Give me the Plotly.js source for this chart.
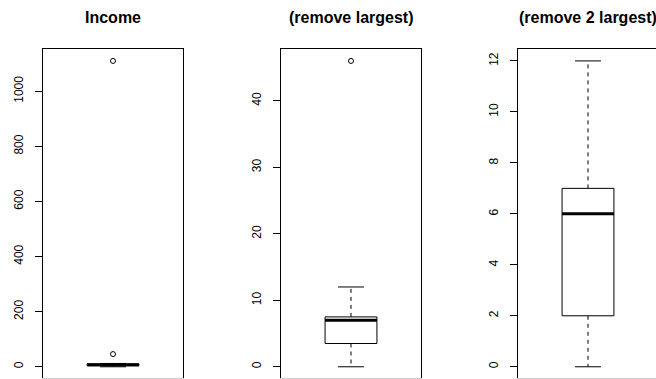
<!DOCTYPE html>
<html><head><meta charset="utf-8">
<script src="https://cdn.plot.ly/plotly-3.0.1.min.js"></script>
<style>html,body{margin:0;padding:0;background:#fff;overflow:hidden}</style>
</head><body><div id="chart" style="width:656px;height:379px"></div>
<script>
// Panel titles
const titles = ['Income', '(remove largest)', '(remove 2 largest)'];
// Box statistics (Tukey five-number summary) per panel
const lowWhisker  = [0, 0, 0];
const lowerHinge  = [3.5, 3.5, 2];
const medians     = [7, 7, 6];
const upperHinge  = [10, 7.5, 7];
const highWhisker = [12, 12, 12];
const outliers    = [[46, 1110], [46], []];
// y tick spacing per panel
const tickSteps = [200, 10, 2];

const W = 656, H = 379;
const FONT = 'Liberation Sans, Arial, Helvetica, sans-serif';
const xDomains = [[43 / W, 183 / W], [281 / W, 421 / W], [518 / W, 1]];
const yTop = 1 - 48.7 / H;
const pxPerUnit = 140 / 1.08;

const traces = [];
const layout = {
  width: W, height: H,
  margin: {l: 0, r: 0, t: 0, b: 0},
  paper_bgcolor: '#fff', plot_bgcolor: '#fff',
  showlegend: false,
  annotations: [], shapes: []
};

const line = (xa, ya, x, y, width, dash) => ({
  type: 'scatter', mode: 'lines', x: x, y: y, xaxis: xa, yaxis: ya,
  line: {color: '#000', width: width, dash: dash || 'solid'},
  hoverinfo: 'skip'
});

for (let i = 0; i < 3; i++) {
  const sfx = i === 0 ? '' : String(i + 1);
  const xa = 'x' + sfx, ya = 'y' + sfx;
  const c = 1, hw = 0.2, cw = 0.1;
  const q1 = lowerHinge[i], q3 = upperHinge[i];
  // box
  traces.push(line(xa, ya, [c - hw, c + hw, c + hw, c - hw, c - hw], [q1, q1, q3, q3, q1], 1));
  // whiskers
  traces.push(line(xa, ya, [c, c], [q3, highWhisker[i]], 1, '4px,4px'));
  traces.push(line(xa, ya, [c, c], [q1, lowWhisker[i]], 1, '4px,4px'));
  // staples
  traces.push(line(xa, ya, [c - cw, c + cw], [highWhisker[i], highWhisker[i]], 1));
  traces.push(line(xa, ya, [c - cw, c + cw], [lowWhisker[i], lowWhisker[i]], 1));
  // median
  traces.push(line(xa, ya, [c - hw, c + hw], [medians[i], medians[i]], 3));
  // outliers
  if (outliers[i].length) {
    traces.push({
      type: 'scatter', mode: 'markers', xaxis: xa, yaxis: ya,
      x: outliers[i].map(() => c), y: outliers[i],
      marker: {symbol: 'circle-open', size: 5, color: '#000', line: {width: 1, color: '#000'}},
      hoverinfo: 'skip', cliponaxis: false
    });
  }

  const allY = [lowWhisker[i], highWhisker[i]].concat(outliers[i]);
  const lo = Math.min(...allY), hi = Math.max(...allY);
  const pad = 0.04 * (hi - lo);
  const dom = xDomains[i];
  const xr = [0.46, 0.46 + (dom[1] - dom[0]) * W / pxPerUnit];

  layout['xaxis' + sfx] = {
    domain: dom, range: xr, anchor: ya,
    showline: true, mirror: true, linecolor: '#000', linewidth: 1,
    showticklabels: false, ticks: '', showgrid: false, zeroline: false, fixedrange: true
  };
  layout['yaxis' + sfx] = {
    domain: [0, yTop], range: [lo - pad, hi + pad], anchor: xa,
    tick0: 0, dtick: tickSteps[i],
    ticks: 'outside', ticklen: 7, tickwidth: 1, tickcolor: '#000',
    tickangle: -90, ticklabelstandoff: 7,
    tickfont: {family: FONT, size: 12, color: '#000'},
    showline: true, mirror: i < 2, linecolor: '#000', linewidth: 1,
    showgrid: false, zeroline: false, fixedrange: true
  };
  layout.annotations.push({
    text: '<b>' + titles[i] + '</b>', xref: xa, x: 1, yref: 'paper', y: 1 - 17.5 / H,
    xanchor: 'center', yanchor: 'middle', showarrow: false,
    font: {family: FONT, size: 16, color: '#000'}
  });
  layout.shapes.push({
    type: 'line', xref: 'paper', yref: 'paper',
    x0: dom[0] - 1 / W, x1: Math.min(dom[1] + 1 / W, 1), y0: 0.5 / H, y1: 0.5 / H,
    line: {color: '#cccccc', width: 1}
  });
}

Plotly.newPlot('chart', traces, layout, {staticPlot: true, displayModeBar: false});
</script></body></html>
